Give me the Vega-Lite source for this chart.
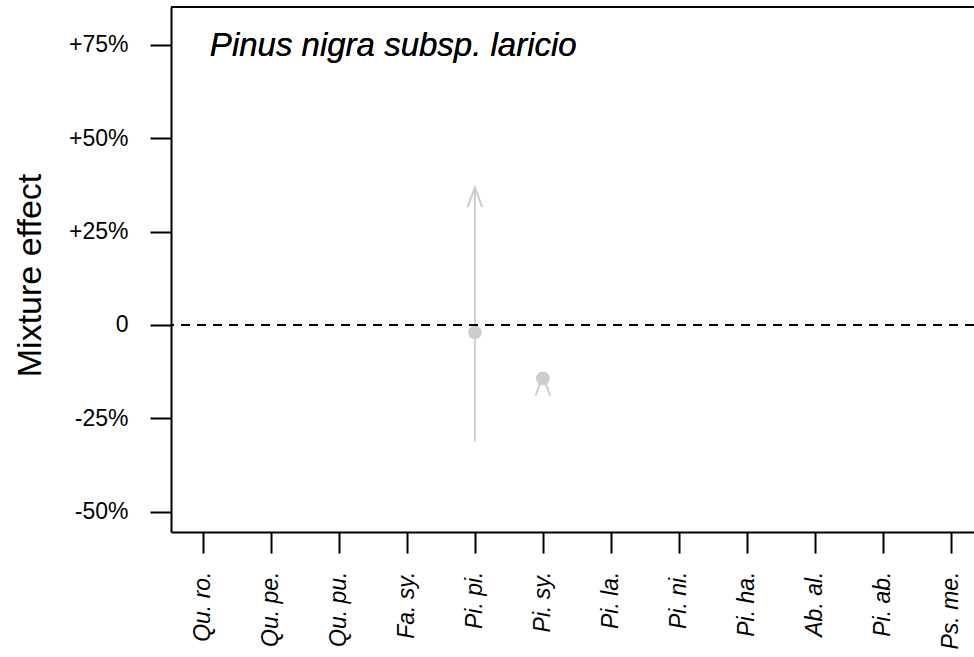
{
  "$schema": "https://vega.github.io/schema/vega-lite/v6.json",
  "autosize": {"type": "none"},
  "padding": {"left": 171, "top": 7, "right": 0, "bottom": 125},
  "width": 803,
  "height": 525,
  "background": "white",
  "config": {
    "view": {"stroke": null},
    "axis": {
      "labelFont": "Liberation Sans",
      "titleFont": "Liberation Sans",
      "labelColor": "black",
      "titleColor": "black",
      "domainColor": "black",
      "tickColor": "black",
      "domainWidth": 2,
      "tickWidth": 2,
      "tickSize": 21,
      "grid": false
    }
  },
  "data": {
    "values": [
      {"species": "Pi. pi.", "effect": -1.95, "lo": -31.2, "hi": 36.9},
      {"species": "Pi. sy.", "effect": -14.3, "lo": -15.5, "hi": -13.6}
    ]
  },
  "encoding": {
    "x": {
      "field": "species",
      "type": "nominal",
      "sort": null,
      "scale": {
        "type": "point",
        "domain": ["Qu. ro.", "Qu. pe.", "Qu. pu.", "Fa. sy.", "Pi. pi.", "Pi. sy.", "Pi. la.", "Pi. ni.", "Pi. ha.", "Ab. al.", "Pi. ab.", "Ps. me."],
        "padding": 0.404,
        "align": 0.58
      },
      "axis": {
        "title": null,
        "labelAngle": -90,
        "labelAlign": "right",
        "labelBaseline": "middle",
        "labelFontSize": 23,
        "labelFontStyle": "italic",
        "labelPadding": 18
      }
    }
  },
  "layer": [
    {
      "mark": {"type": "rule", "color": "#cdcdcd", "strokeWidth": 2},
      "encoding": {
        "y": {
          "field": "lo",
          "type": "quantitative",
          "scale": {"domain": [-55.4, 85.1], "nice": false, "zero": false},
          "axis": {
            "title": "Mixture effect",
            "titleFontSize": 34,
            "titleFontWeight": "normal",
            "titleAngle": -90,
            "titleX": -141,
            "titleY": 268,
            "titleAlign": "center",
            "titleBaseline": "middle",
            "values": [-50, -25, 0, 25, 50, 75],
            "labelExpr": "datum.value > 0 ? '+' + datum.value + '%' : (datum.value == 0 ? '0' : datum.value + '%')",
            "labelFontSize": 23,
            "labelPadding": 22
          }
        },
        "y2": {"field": "hi"}
      }
    },
    {
      "mark": {
        "type": "point",
        "shape": "M -0.73 2 L 0 0 L 0.73 2",
        "size": 400,
        "filled": false,
        "stroke": "#cdcdcd",
        "strokeWidth": 2,
        "opacity": 1
      },
      "encoding": {"y": {"field": "hi", "type": "quantitative"}}
    },
    {
      "mark": {"type": "point", "shape": "circle", "filled": true, "color": "#cdcdcd", "size": 190, "opacity": 1},
      "encoding": {"y": {"field": "effect", "type": "quantitative"}}
    },
    {
      "mark": {"type": "rule", "color": "black", "strokeWidth": 1.8, "strokeDash": [9, 7]},
      "encoding": {"x": null, "y": {"datum": 0}}
    },
    {
      "mark": {"type": "rule", "color": "black", "strokeWidth": 2},
      "encoding": {"x": null, "y": {"datum": 85.1}}
    },
    {
      "mark": {"type": "text", "text": "Pinus nigra subsp. laricio", "font": "Liberation Sans", "fontStyle": "italic", "fontSize": 33, "align": "left", "baseline": "alphabetic", "dx": 7, "color": "black"},
      "encoding": {"x": {"datum": "Qu. ro."}, "y": {"datum": 72.1}}
    }
  ]
}
